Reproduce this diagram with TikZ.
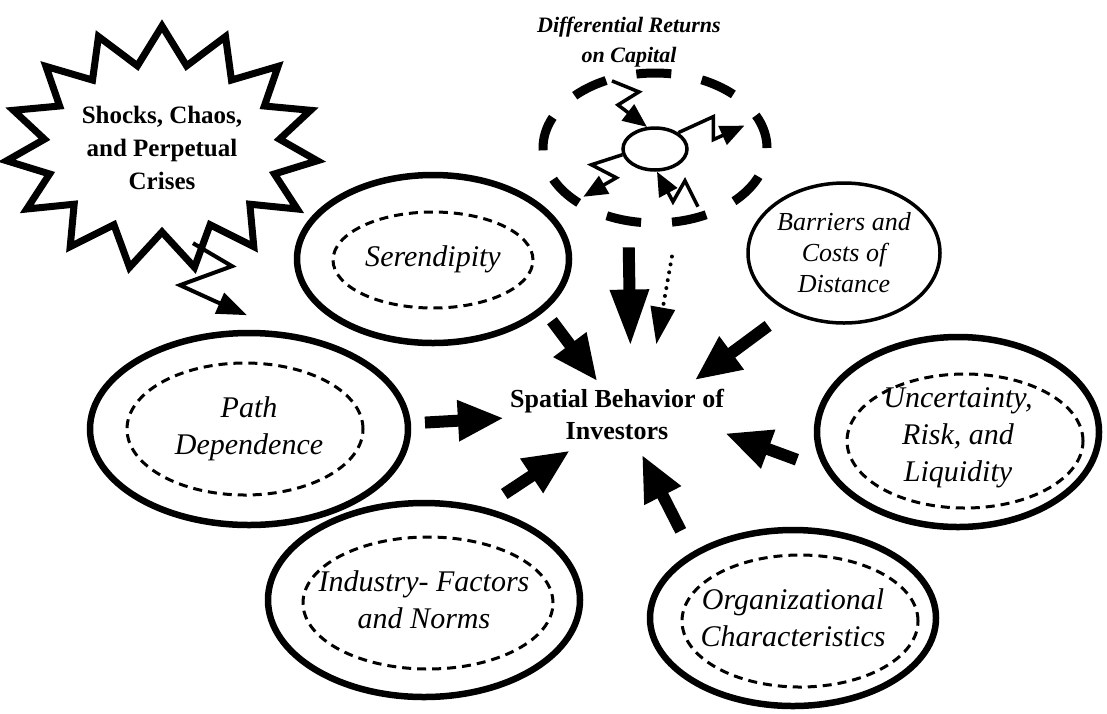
\documentclass[tikz,border=0pt]{standalone}
\usepackage{fontspec}
\setmainfont{Liberation Serif}
\usetikzlibrary{arrows.meta, shapes}

\begin{document}
\begin{tikzpicture}[x=1pt, y=-1pt,
      factor/.style={draw, ellipse, line width=6.5pt, inner sep=0pt, align=center,
                     font=\fontsize{30}{37}\selectfont\itshape},
      inring/.style={draw, ellipse, line width=3pt, inner sep=0pt,
                     dash pattern=on 9pt off 6pt},
      blockarrow/.style={line width=12pt, -{Triangle[length=46pt, width=38pt]}},
      dotarrow/.style={line width=4pt, line cap=round, dash pattern=on 0pt off 8pt,
                       -{Triangle[length=37pt, width=24pt]}},
      bolt/.style={line width=3.5pt, -{Triangle[length=24pt, width=20pt]}} ]
    \useasboundingbox (0,0) rectangle (1107,713);

    \node[draw, starburst, starburst points=15, starburst point height=38pt,
          random starburst=0, line width=7pt, fill=white, align=center,
          minimum width=292pt, minimum height=244pt,
          font=\fontsize{25}{33}\selectfont\bfseries] (shocks) at (162,148)
      {Shocks, Chaos,\\and Perpetual\\Crises};

    \node[align=center, font=\fontsize{22}{30}\selectfont\bfseries\itshape]
      (rettext) at (629,42) {Differential Returns\\on Capital};
    \node[draw, ellipse, line width=9pt, dash pattern=on 35pt off 31pt,
          minimum width=224pt, minimum height=150pt] (returns) at (655,148) {};
    \node[draw, ellipse, line width=3.5pt, minimum width=64pt,
          minimum height=42pt] (core) at (655,149) {};

    \node[align=center, inner sep=0pt, font=\fontsize{26}{32}\selectfont\bfseries]
      (hub) at (617,414) {Spatial Behavior of\\Investors};

    \node[factor, minimum width=272pt, minimum height=168pt] (seren) at (433,259)
      {Serendipity};
    \node[inring, minimum width=200pt, minimum height=96pt] (serenin) at (433,260) {};

    \node[factor, minimum width=318pt, minimum height=192pt] (path) at (249,429)
      {Path\\Dependence};
    \node[inring, minimum width=236pt, minimum height=132pt] (pathin) at (245,429) {};

    \node[factor, minimum width=312pt, minimum height=194pt] (industry) at (424,600)
      {Industry- Factors\\and Norms};
    \node[inring, minimum width=250pt, minimum height=132pt] (industryin) at (428,603) {};

    \node[factor, minimum width=286pt, minimum height=176pt] (org) at (793,618)
      {Organizational\\Characteristics};
    \node[inring, minimum width=236pt, minimum height=132pt] (orgin) at (800,621) {};

    \node[factor, minimum width=282pt, minimum height=190pt,
          label={[align=center, yshift=-6pt, font=\fontsize{30}{37}\selectfont\itshape]
                 center:Uncertainty,\\Risk, and\\Liquidity}] (risk) at (958,432) {};
    \node[inring, minimum width=236pt, minimum height=134pt] (riskin) at (965,441) {};

    \node[draw, ellipse, line width=3.5pt, inner sep=0pt, align=center,
          minimum width=192pt, minimum height=140pt,
          font=\fontsize{26}{31}\selectfont\itshape] (barriers) at (844,253)
      {Barriers and\\Costs of\\Distance};

    \draw[bolt, line width=4pt, -{Triangle[length=30pt, width=22pt]}]
      ([shift={(31,6)}]shocks.south) -- ++(39,23) -- ++(-52,19) -- ++(35,16) -- ++(32,14);

    \draw[bolt] ([shift={(-35,-46)}]core.110) -- ++(27,11) -- ++(-21,13) -- (core.110);
    \draw[bolt] ([shift={(41,35)}]core.-85) -- ++(-13,-26) -- ++(-12,21) -- (core.-85);
    \draw[bolt] (core.35) -- ++(35,-16) -- ++(0,23) -- ++(31,-14);
    \draw[bolt] (core.190) -- ++(-31,10) -- ++(25,13) -- ++(-33,19);

    \draw[blockarrow, shorten <=12pt, shorten >=9pt] (seren.-25) -- (hub.119);
    \draw[blockarrow, shorten <=14pt, shorten >=6pt] (path.2) -- (hub.182);
    \draw[blockarrow, shorten <=24pt, shorten >=20pt] (industry.57) -- (hub.220);
    \draw[blockarrow, shorten <=24pt, shorten >=17pt] (org.147) -- (hub.-56);
    \draw[blockarrow, shorten <=30pt, shorten >=1pt] (risk.196) -- (hub.-10);
    \draw[blockarrow, shorten <=24pt, shorten >=14pt] (barriers.226) -- (hub.21);
    \draw[blockarrow, -{Triangle[length=57pt, width=36pt]}, shorten <=22pt,
          shorten >=42pt] (returns.251) -- (hub.61);
    \draw[dotarrow, shorten <=31pt, shorten >=45pt] (returns.-74) -- (hub.39);
  \end{tikzpicture}
\end{document}
